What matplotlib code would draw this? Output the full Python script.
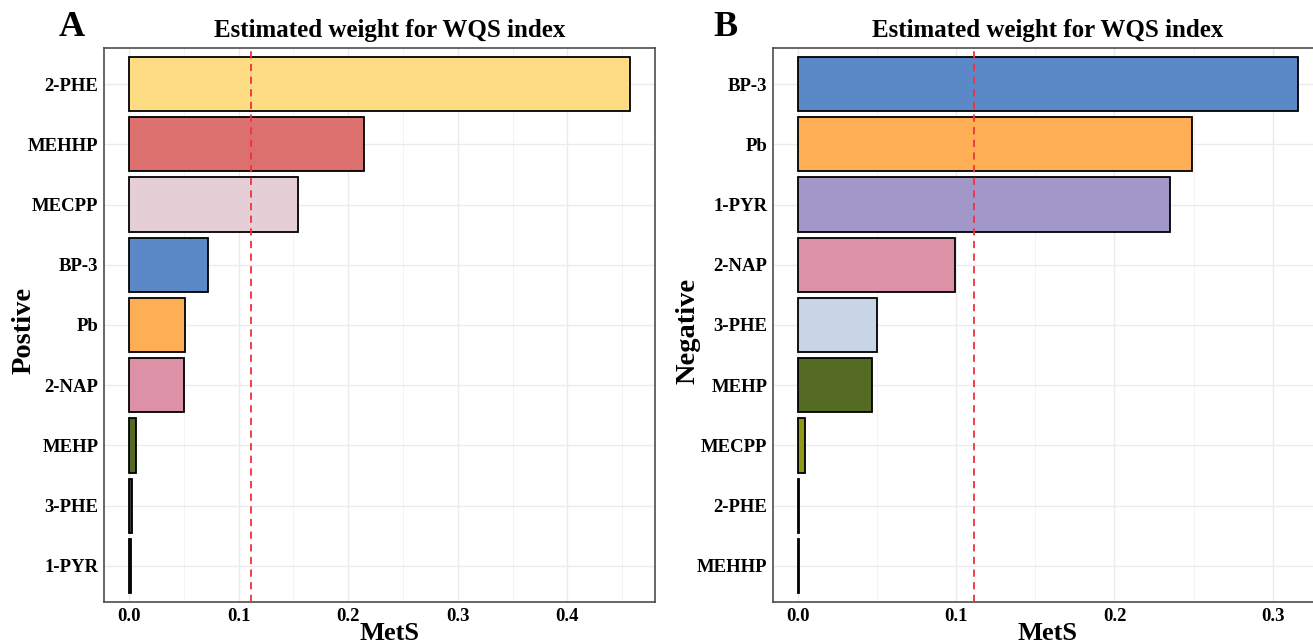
import matplotlib
matplotlib.use("Agg")
import matplotlib.pyplot as plt
from matplotlib.ticker import MultipleLocator

plt.rcParams['font.family'] = ['Liberation Serif', 'DejaVu Serif']
plt.rcParams['font.weight'] = 'bold'

# Panel A (positive)
cats_a = ["2-PHE", "MEHHP", "MECPP", "BP-3", "Pb", "2-NAP", "MEHP", "3-PHE", "1-PYR"]
vals_a = [0.457, 0.214, 0.154, 0.072, 0.051, 0.050, 0.006, 0.003, 0.002]
cols_a = ["#FEDC83", "#DC706E", "#E5CED6", "#5B88C6", "#FEAF55", "#DC91A6", "#546A22", "#3A3A3A", "#3A3A3A"]

# Panel B (negative)
cats_b = ["BP-3", "Pb", "1-PYR", "2-NAP", "3-PHE", "MEHP", "MECPP", "2-PHE", "MEHHP"]
vals_b = [0.316, 0.249, 0.235, 0.099, 0.050, 0.047, 0.0045, 0.0004, 0.0004]
cols_b = ["#5B88C6", "#FEAF55", "#A297C9", "#DC91A6", "#C8D5E7", "#556B24", "#8E9A12", "#3A3A3A", "#3A3A3A"]

threshold = 1 / 9
xticks_a = [0.0, 0.1, 0.2, 0.3, 0.4]
xticks_b = [0.0, 0.1, 0.2, 0.3]

fig = plt.figure(figsize=(13.13, 6.44), dpi=100)

def panel(rect, cats, vals, cols, xticks, ylabel, ylab_x, letter, letter_x, title_x):
    ax = fig.add_axes(rect)
    n = len(cats)
    ypos = list(range(n, 0, -1))
    ax.barh(ypos, vals, height=0.9, color=cols, edgecolor="black", linewidth=1.3, zorder=3)
    ax.axvline(threshold, color="#F0323C", linestyle=(0, (4, 3)), linewidth=1.3, zorder=4)
    vmax = max(vals)
    ax.set_xlim(-0.05 * vmax, vmax * 1.05)
    ax.set_ylim(0.4, n + 0.6)
    ax.set_yticks(ypos)
    ax.set_yticklabels(cats, fontsize=13.5, fontweight='bold')
    ax.set_xticks(xticks)
    ax.set_xticklabels([f"{t:.1f}" for t in xticks], fontsize=13.5, fontweight='bold')
    ax.xaxis.set_minor_locator(MultipleLocator(0.05))
    ax.grid(which='major', color="#EBEBEB", linewidth=1.0, zorder=0)
    ax.grid(which='minor', axis='x', color="#F3F3F3", linewidth=0.7, zorder=0)
    ax.tick_params(axis='both', which='major', length=0, pad=4)
    ax.tick_params(axis='both', which='minor', length=0)
    for s in ax.spines.values():
        s.set_color("#4D4D4D")
        s.set_linewidth(1.2)
    ax.set_title("Estimated weight for WQS index", fontsize=18, fontweight='bold', pad=8, x=title_x)
    ax.set_xlabel("MetS", fontsize=19, fontweight='bold', va='center')
    ax.xaxis.set_label_coords(title_x, (602 - 633) / 554)
    ax.set_ylabel(ylabel, fontsize=20.5, fontweight='bold', va='center')
    ax.yaxis.set_label_coords(ylab_x, 0.49)
    fig.text(letter_x, 1 - 27 / 644, letter, fontsize=26, fontweight='bold', ha='center', va='center')
    return ax

panel([104 / 1313, 42 / 644, 551 / 1313, 554 / 644], cats_a, vals_a, cols_a, xticks_a,
      "Postive", (24 - 104) / 551, "A", 72 / 1313, (390 - 104) / 551)
panel([773 / 1313, 42 / 644, 550 / 1313, 554 / 644], cats_b, vals_b, cols_b, xticks_b,
      "Negative", (688 - 773) / 550, "B", 726 / 1313, 0.5)

fig.savefig("out.png", dpi=100)
